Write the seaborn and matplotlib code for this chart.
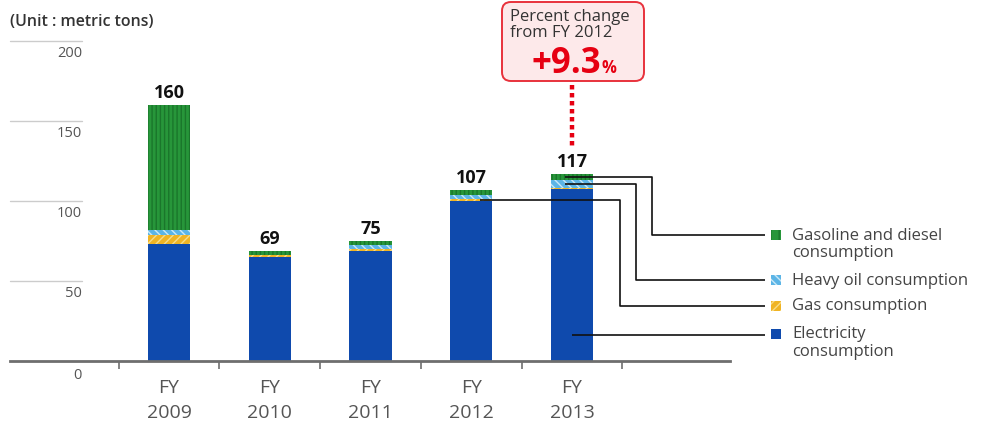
import matplotlib
matplotlib.use("Agg")
import matplotlib.pyplot as plt
import seaborn as sns
import pandas as pd
from matplotlib.patches import FancyBboxPatch, Rectangle

# CO2-related fuel consumption by fiscal year (metric tons)
years = ["2009", "2010", "2011", "2012", "2013"]
electricity = [73, 65, 69, 100, 107.5]
gas = [6, 1, 1, 1, 0.5]
heavy_oil = [3, 0.5, 2.5, 3, 5]
gasoline = [78, 2.5, 2.5, 3, 4]
totals = [160, 69, 75, 107, 117]
y_ticks = [0, 50, 100, 150, 200]
legend_labels = ["Gasoline and diesel\nconsumption", "Heavy oil consumption",
                 "Gas consumption", "Electricity\nconsumption"]

sns.set_theme(style="white")
plt.rcParams["font.family"] = ["Open Sans", "DejaVu Sans"]
plt.rcParams["hatch.linewidth"] = 1.0

df = pd.DataFrame({"year": years, "electricity": electricity, "gas": gas,
                   "heavy_oil": heavy_oil, "gasoline": gasoline})
df["c1"] = df["electricity"]
df["c2"] = df["c1"] + df["gas"]
df["c3"] = df["c2"] + df["heavy_oil"]
df["c4"] = df["c3"] + df["gasoline"]

W, H = 992, 431
fig = plt.figure(figsize=(W / 100, H / 100), dpi=100)
ax = fig.add_axes([10 / W, (H - 362) / H, 720 / W, 360 / H])

# layer styles: face colour, hatch colour, hatch pattern
styles = {
    "c4": ("#27963a", "#1a762b", "||||"),
    "c3": ("#5cb5e6", "#c9e8f8", "\\\\\\\\"),
    "c2": ("#f0b424", "#f9dc86", "////"),
    "c1": ("#0f4aad", "#0f4aad", ""),
}

# stacked bars: cumulative totals drawn from the top layer down
for col in ["c4", "c3", "c2", "c1"]:
    face, hcol, hatch = styles[col]
    sns.barplot(data=df, x="year", y=col, color=face, saturation=1,
                width=0.42, ax=ax)
    for bar in ax.containers[-1]:
        bar.set_facecolor(face)
        bar.set_edgecolor(hcol)
        bar.set_linewidth(0)
        bar.set_hatch(hatch)

ax.set_xlim(-1.578, 5.568)
ax.set_ylim(0, 225)
ax.set_xlabel("")
ax.set_ylabel("")
ax.set_yticks([])

for s in ["left", "right", "top"]:
    ax.spines[s].set_visible(False)
ax.spines["bottom"].set_color("#6e6e6e")
ax.spines["bottom"].set_linewidth(2)

ax.set_xticks(range(len(years)))
ax.set_xticklabels([f"FY\n{y}" for y in years], fontsize=14, color="#555555",
                   linespacing=1.5)
ax.tick_params(axis="x", which="major", length=0, pad=12)
ax.set_xticks([i - 0.5 for i in range(len(years) + 1)], minor=True)
ax.tick_params(axis="x", which="minor", bottom=True, length=6, width=1.2,
               color="#6e6e6e", direction="out")

# short grid stubs with the value labels beneath them
gx0, gx1 = -1.578, -0.864
for v in y_ticks:
    if v > 0:
        ax.plot([gx0, gx1], [v, v], color="#cccccc", lw=1, clip_on=False)
    off = 7 if v > 0 else 8.5
    ax.text(gx1, v - off, str(v), ha="right", va="center", fontsize=10.5,
            color="#555555")

fig.text(10 / W, 1 - 22 / H, "(Unit : metric tons)", ha="left", va="center",
         fontsize=11.5, fontweight="semibold", color="#333333")

# totals above the bars
for i, t in enumerate(totals):
    ax.text(i, df["c4"][i] + 2.5, f"{t}", ha="center", va="bottom",
            fontsize=13, fontweight="bold", color="#111111")

# leader lines from bar segments to the legend entries
leg_x = 5.916
leg_y = [78.75, 50.6, 34.4, 16.9]
mid_gasoline = (df["c3"][4] + df["c4"][4]) / 2
mid_heavy = (df["c2"][4] + df["c3"][4]) / 2
mid_gas = (df["c1"][3] + df["c2"][3]) / 2
mid_elec = 16.4
paths = [
    ([3.93, 4.794, 4.794, leg_x], [mid_gasoline, mid_gasoline, leg_y[0], leg_y[0]]),
    ([3.93, 4.635, 4.635, leg_x], [mid_heavy, mid_heavy, leg_y[1], leg_y[1]]),
    ([3.087, 4.476, 4.476, leg_x], [mid_gas, mid_gas, leg_y[2], leg_y[2]]),
    ([4.0, leg_x], [mid_elec, mid_elec]),
]
for xs, ys in paths:
    ax.plot(xs, ys, color="#111111", lw=1.2, clip_on=False, solid_capstyle="butt")

# legend swatches and labels
for (col, lab, ly) in zip(["c4", "c3", "c2", "c1"], legend_labels, leg_y):
    face, hcol, hatch = styles[col]
    r = Rectangle((6.02 - 0.05, ly - 3.2), 0.1, 6.4, facecolor=face,
                  edgecolor=hcol, linewidth=0, hatch=hatch.replace("||||", "||"),
                  clip_on=False)
    ax.add_patch(r)
    lines = lab.split("\n")
    ax.text(6.184, ly + 0.3, lines[0], ha="left", va="center",
            fontsize=12, color="#444444", clip_on=False)
    if len(lines) > 1:
        ax.text(6.184, ly - 10.4, lines[1], ha="left", va="center",
                fontsize=12, color="#444444", clip_on=False)

# percent-change callout above FY 2013
box = FancyBboxPatch((502 / W, 1 - 82 / H), 142 / W, 79 / H,
                     boxstyle="round,pad=0,rounding_size=0.009",
                     transform=fig.transFigure, facecolor="#fde9ea",
                     edgecolor="#e8323c", linewidth=1.4, mutation_aspect=W / H)
fig.patches.append(box)
fig.text(510 / W, 1 - 25 / H, "Percent change\nfrom FY 2012", ha="left",
         va="center", fontsize=12, color="#333333", linespacing=0.92)
fig.text(601 / W, 1 - 73 / H, "+9.3", ha="right", va="baseline", fontsize=25,
         fontweight="bold", color="#e60012")
fig.text(602 / W, 1 - 73 / H, "%", ha="left", va="baseline", fontsize=12,
         fontweight="bold", color="#e60012")
ax.plot([4, 4], [172.5, 133.8], color="#e60012", lw=3.2, clip_on=False,
        linestyle=(0, (1, 0.8)), dash_capstyle="butt")

fig.savefig("out.png", dpi=100)
